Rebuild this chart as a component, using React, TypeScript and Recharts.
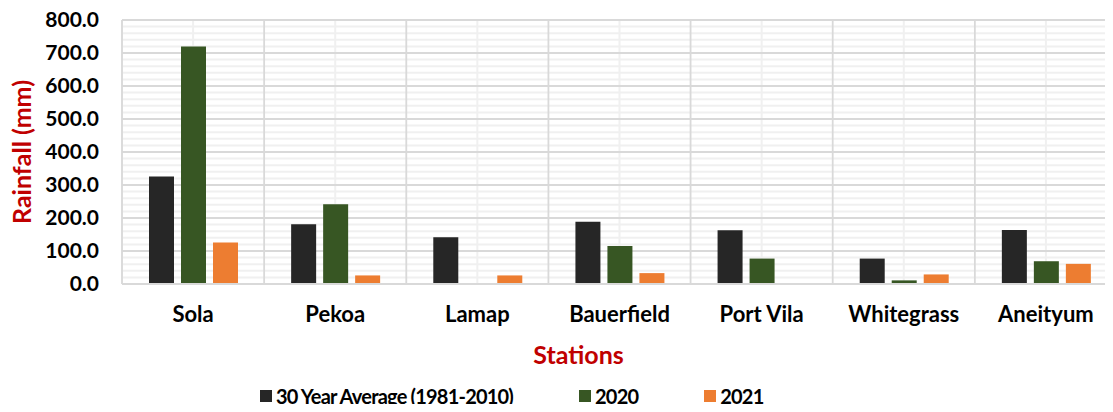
import { BarChart, Bar, XAxis, YAxis, CartesianGrid, Legend, Label } from "recharts";

const stations = ["Sola", "Pekoa", "Lamap", "Bauerfield", "Port Vila", "Whitegrass", "Aneityum"];
const avg30 = [326, 181, 142, 189, 163, 77, 164];
const rain2020 = [720, 242, null, 115, 77, 11, 69];
const rain2021 = [126, 26, 26, 33, null, 29, 61];
const yTicks = [0, 100, 200, 300, 400, 500, 600, 700, 800];
const minorTicks = [20, 40, 60, 80, 120, 140, 160, 180, 220, 240, 260, 280, 320, 340, 360, 380, 420, 440, 460, 480, 520, 540, 560, 580, 620, 640, 660, 680, 720, 740, 760, 780];
const Y_MAX = 800;

const data = stations.map((s, i) => ({
  station: s,
  avg: avg30[i],
  y2020: rain2020[i],
  y2021: rain2021[i],
}));

const SERIES = [
  { key: "avg", name: "30 Year Average (1981-2010)", color: "#262626" },
  { key: "y2020", name: "2020", color: "#375623" },
  { key: "y2021", name: "2021", color: "#ED7D31" },
];

const FONT = "Lato, 'Open Sans', sans-serif";

// value -> pixel inside the plot area
const yPos = (offset: any, v: number) => offset.top + offset.height * (1 - v / Y_MAX);

const LegendContent = () => (
  <div style={{ display: "flex", gap: 66, fontFamily: FONT, fontWeight: 700, fontSize: 20, letterSpacing: -0.8, color: "#000", lineHeight: "20px" }}>
    {SERIES.map((s) => (
      <div key={s.key} style={{ display: "flex", alignItems: "center", gap: 4 }}>
        <span style={{ width: 12, height: 12, background: s.color, display: "inline-block" }} />
        <span>{s.name}</span>
      </div>
    ))}
  </div>
);

export default function App() {
  return (
    <div style={{ margin: -8, width: 1113, height: 412, overflow: "hidden", background: "#fff", position: "relative" }}>
      <BarChart
        width={1130}
        height={412}
        data={data}
        margin={{ top: 20, right: 13, left: 0, bottom: 46 }}
        barSize={25}
        barGap={7}
      >
        {/* minor grid */}
        <CartesianGrid
          stroke="#f0f0f0"
          strokeWidth={2}
          horizontalCoordinatesGenerator={({ offset }: any) => minorTicks.map((v) => yPos(offset, v))}
        />
        {/* major grid */}
        <CartesianGrid
          stroke="#d9d9d9"
          strokeWidth={1.8}
          fill="none"
          horizontalCoordinatesGenerator={({ offset }: any) => yTicks.map((v) => yPos(offset, v))}
          verticalCoordinatesGenerator={({ offset }: any) =>
            [...stations.map((_, i) => offset.left + (offset.width * i) / stations.length), offset.left + offset.width]
          }
        />
        <XAxis
          dataKey="station"
          axisLine={{ stroke: "#d9d9d9", strokeWidth: 2 }}
          tickLine={false}
          tickSize={0}
          tickMargin={22}
          height={62}
          tick={{ fill: "#000", fontFamily: FONT, fontWeight: 700, fontSize: 22 }}
        >
          <Label
            content={({ viewBox }: any) => (
              <text
                x={viewBox.x + viewBox.width / 2 - 41}
                y={viewBox.y + 80}
                textAnchor="middle"
                fill="#C00000"
                fontFamily={FONT}
                fontWeight={700}
                fontSize={25}
              >
                Stations
              </text>
            )}
          />
        </XAxis>
        <YAxis
          domain={[0, Y_MAX]}
          ticks={yTicks}
          interval={0}
          tickFormatter={(v: number) => v.toFixed(1)}
          axisLine={false}
          tickLine={false}
          tickSize={0}
          tickMargin={23}
          width={122}
          tick={{ fill: "#000", fontFamily: FONT, fontWeight: 700, fontSize: 21 }}
        >
          <Label
            content={({ viewBox }: any) => (
              <text
                x={0}
                y={0}
                transform={`translate(${viewBox.x + 31}, ${viewBox.y + viewBox.height / 2}) rotate(-90)`}
                textAnchor="middle"
                fill="#C00000"
                fontFamily={FONT}
                fontWeight={700}
                fontSize={25}
              >
                Rainfall (mm)
              </text>
            )}
          />
        </YAxis>
        <Legend
          content={<LegendContent />}
          wrapperStyle={{ top: 386, left: 260, width: "auto" }}
        />
        {SERIES.map((s) => (
          <Bar key={s.key} dataKey={s.key} name={s.name} fill={s.color} isAnimationActive={false} />
        ))}
      </BarChart>
    </div>
  );
}
